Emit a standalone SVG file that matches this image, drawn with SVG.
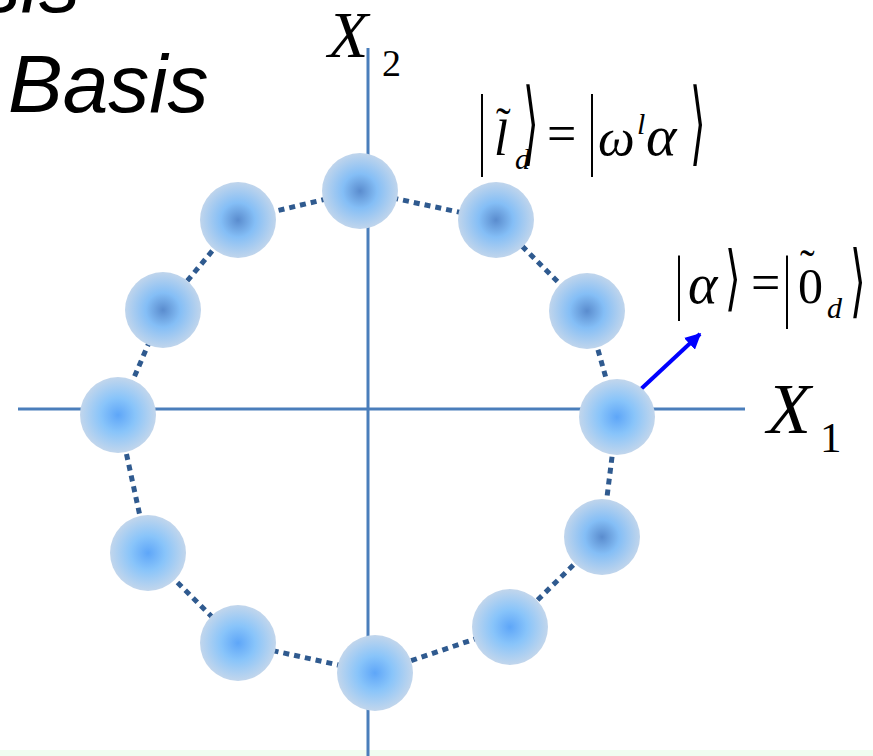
<svg xmlns="http://www.w3.org/2000/svg" width="873" height="756" viewBox="0 0 873 756">
<style>
.axis{stroke:#4a7ebb;stroke-width:3;fill:none}
.dots{stroke:#2f5a8f;stroke-width:5;stroke-dasharray:6 5;fill:none}
.serif{font-family:"Liberation Serif","Times New Roman",serif;fill:#000}
.it{font-style:italic}
.sans{font-family:"Liberation Sans",Arial,sans-serif;font-style:italic;fill:#000}
.br{font-family:"DejaVu Serif","Liberation Serif",serif;fill:#000}
</style>
<defs>
<radialGradient id="gd" cx="0.5" cy="0.5" r="0.5">
<stop offset="0" stop-color="#5a8cce"/>
<stop offset="0.45" stop-color="#84bef6"/>
<stop offset="1" stop-color="#c0d5ec"/>
</radialGradient>
<radialGradient id="gb" cx="0.5" cy="0.5" r="0.5">
<stop offset="0" stop-color="#5ea6f8"/>
<stop offset="0.45" stop-color="#88c4fa"/>
<stop offset="1" stop-color="#c2d6ec"/>
</radialGradient>
<marker id="ah" viewBox="0 0 10 10" refX="9" refY="5" markerWidth="4" markerHeight="4" orient="auto">
<path d="M0,0 L10,5 L0,10 z" fill="#0000ff"/>
</marker>
</defs>
<rect x="0" y="750" width="873" height="6" fill="#f0fdf0"/>
<text class="sans" x="80" y="12" font-size="82" text-anchor="end">sis</text>
<text class="sans" x="8" y="112" font-size="82">Basis</text>
<g id="connectors">
<line class="axis" x1="18" y1="409" x2="745" y2="409"/>
<line class="axis" x1="368" y1="48" x2="368" y2="756"/>
<path class="dots" d="M360,191 L496,220 L587,311 L617,417 L602,537 L510,627 L375,673 L238,643 L148,553 L118,415 L163,310 L238,220 Z"/>
<line x1="641" y1="389" x2="700" y2="334" stroke="#0000ff" stroke-width="4" marker-end="url(#ah)"/>
</g>
<g id="n1"><circle cx="360" cy="191" r="38" fill="url(#gd)"/></g>
<g id="n2"><circle cx="496" cy="220" r="38" fill="url(#gd)"/></g>
<g id="n3"><circle cx="587" cy="311" r="38" fill="url(#gd)"/></g>
<g id="n4"><circle cx="617" cy="417" r="38" fill="url(#gb)"/></g>
<g id="n5"><circle cx="602" cy="537" r="38" fill="url(#gd)"/></g>
<g id="n6"><circle cx="510" cy="627" r="38" fill="url(#gb)"/></g>
<g id="n7"><circle cx="375" cy="673" r="38" fill="url(#gb)"/></g>
<g id="n8"><circle cx="238" cy="643" r="38" fill="url(#gb)"/></g>
<g id="n9"><circle cx="148" cy="553" r="38" fill="url(#gb)"/></g>
<g id="n10"><circle cx="118" cy="415" r="38" fill="url(#gb)"/></g>
<g id="n11"><circle cx="163" cy="310" r="38" fill="url(#gd)"/></g>
<g id="n12"><circle cx="238" cy="220" r="38" fill="url(#gd)"/></g>
<g id="x2label">
<text class="serif it" x="328" y="57" font-size="66">X</text>
<text class="serif" x="382" y="76" font-size="38">2</text>
</g>
<g id="x1label">
<text class="serif it" x="767" y="433" font-size="72">X</text>
<text class="serif" x="820" y="452" font-size="43">1</text>
</g>
<g id="ket1">
<text class="serif" transform="translate(478,158) scale(1,2.3)" font-size="40">|</text>
<text class="serif it" x="494" y="155" font-size="50">l</text>
<text class="serif" x="496" y="138" font-size="44">˜</text>
<text class="serif it" x="515" y="169" font-size="30">d</text>
<text class="br" transform="translate(523,154) scale(1,2.3)" font-size="40">⟩</text>
<text class="serif" x="547" y="151" font-size="52">=</text>
<text class="serif" transform="translate(588,158) scale(1,2.3)" font-size="40">|</text>
<text class="serif it" x="598" y="155" font-size="52">ω</text>
<text class="serif it" x="637" y="134" font-size="30">l</text>
<text class="serif it" x="646" y="155" font-size="58">α</text>
<text class="br" transform="translate(690,154) scale(1,2.3)" font-size="40">⟩</text>
</g>
<g id="ket2">
<text class="serif" transform="translate(675,306) scale(1,1.78)" font-size="40">|</text>
<text class="serif it" x="688" y="303" font-size="56">α</text>
<text class="br" transform="translate(725,302) scale(1,1.78)" font-size="40">⟩</text>
<text class="serif" x="751" y="300" font-size="52">=</text>
<text class="serif" transform="translate(783,312) scale(1,2.0)" font-size="40">|</text>
<text class="serif" x="798" y="303" font-size="50">0</text>
<text class="serif" x="800" y="280" font-size="44">˜</text>
<text class="serif it" x="827" y="318" font-size="30">d</text>
<text class="br" transform="translate(850,308) scale(1,2.0)" font-size="40">⟩</text>
</g>
</svg>
